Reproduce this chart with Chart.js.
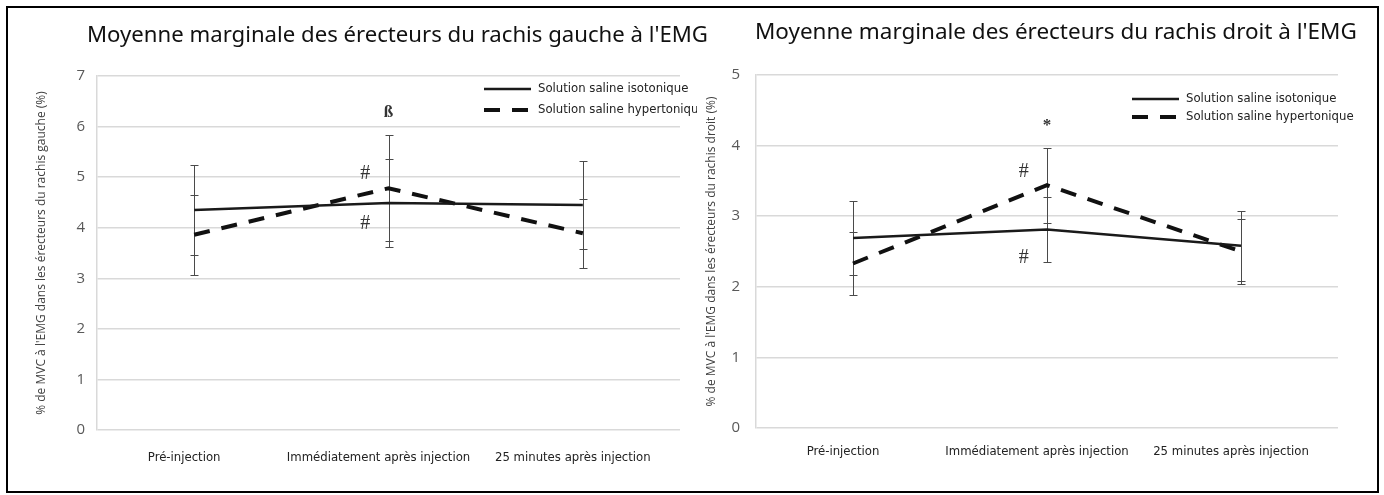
<!DOCTYPE html>
<html lang="fr">
<head>
<meta charset="utf-8">
<script src="https://cdn.jsdelivr.net/npm/chart.js@4.4.1/dist/chart.umd.min.js"></script>
<style>
    body { margin: 0; background: #fff; }
    #cadre { position: absolute; left: 6px; top: 6px; width: 1369px; height: 483px; border: 2px solid #000; }
    canvas { position: absolute; }
    #chartGauche { left: 10px; top: 10px; }
    #chartDroit { left: 700px; top: 10px; }
</style>
</head>
<body>
<div id="cadre"></div>
<canvas id="chartGauche" width="702" height="478"></canvas>
<canvas id="chartDroit" width="676" height="478"></canvas>
<script>
// =====================
// DONNÉES
// =====================
const categories = ['Pré-injection', 'Immédiatement après injection', '25 minutes après injection'];
const seriesNames = ['Solution saline isotonique', 'Solution saline hypertonique'];

// rachis gauche
const gaucheIso = [4.35, 4.49, 4.45];
const gaucheIsoErr = [0.89, 0.87, 0.87];
const gaucheHyper = [3.86, 4.78, 3.89];
const gaucheHyperErr = [0.79, 1.05, 0.68];
const gaucheTicksMax = 7;
const gaucheMarks = [['ß', 1, 6.28], ['#', 0.88, 5.06], ['#', 0.88, 4.07]];

// rachis droit
const droitIso = [2.69, 2.81, 2.58];
const droitIsoErr = [0.52, 0.46, 0.50];
const droitHyper = [2.33, 3.44, 2.50];
const droitHyperErr = [0.45, 0.53, 0.46];
const droitTicksMax = 5;
const droitMarks = [['*', 1, 4.29], ['#', 0.88, 3.63], ['#', 0.88, 2.41]];

const NARROW = "'Liberation Sans Narrow', 'DejaVu Sans Condensed', sans-serif";

// =====================
// PLUGIN : barres d'erreur, signes, légende, titre
// =====================
const extras = {
    id: 'extras',
    beforeDatasetsDraw(chart) {
        const ctx = chart.ctx;
        const x = chart.scales.x, y = chart.scales.y;
        ctx.save();
        ctx.strokeStyle = '#4a4a4a';
        ctx.lineWidth = 1;
        chart.data.datasets.forEach(ds => {
            ds.data.forEach((v, i) => {
                const px = Math.round(x.getPixelForValue(i)) + 0.5;
                const top = Math.round(y.getPixelForValue(v + ds.errors[i])) + 0.5;
                const bot = Math.round(y.getPixelForValue(v - ds.errors[i])) + 0.5;
                ctx.beginPath();
                ctx.moveTo(px, top); ctx.lineTo(px, bot);
                ctx.moveTo(px - 4, top); ctx.lineTo(px + 4, top);
                ctx.moveTo(px - 4, bot); ctx.lineTo(px + 4, bot);
                ctx.stroke();
            });
        });
        ctx.restore();
    },
    afterDraw(chart, args, opts) {
        const ctx = chart.ctx;
        const x = chart.scales.x, y = chart.scales.y;
        const area = chart.chartArea;

        // signes de significativité
        ctx.save();
        ctx.fillStyle = '#333';
        ctx.textAlign = 'center';
        ctx.textBaseline = 'middle';
        opts.marks.forEach(m => {
            ctx.font = (m[0] === '#' ? '20px' : 'bold 17px') + " 'Liberation Serif', serif";
            ctx.fillText(m[0], x.getPixelForValue(m[1]), y.getPixelForValue(m[2]));
        });
        ctx.restore();

        // légende
        ctx.save();
        ctx.beginPath();
        ctx.rect(0, 0, opts.legend.clip, chart.height);
        ctx.clip();
        chart.data.datasets.forEach((ds, i) => {
            const lx = area.left + opts.legend.dx;
            const ly = area.top + opts.legend.dy + i * opts.legend.gap;
            ctx.strokeStyle = ds.borderColor;
            ctx.lineWidth = ds.borderWidth;
            ctx.setLineDash(ds.borderDash || []);
            ctx.beginPath();
            ctx.moveTo(lx, ly);
            ctx.lineTo(lx + 47, ly);
            ctx.stroke();
            ctx.setLineDash([]);
            ctx.fillStyle = '#222';
            ctx.font = '13px ' + NARROW;
            ctx.textAlign = 'left';
            ctx.textBaseline = 'middle';
            ctx.fillText(ds.label, lx + 54, ly);
        });
        ctx.restore();

        // titre
        ctx.save();
        ctx.fillStyle = '#111';
        ctx.font = "22px 'Noto Sans', sans-serif";
        const w = ctx.measureText(opts.title.text).width;
        const size = 22 * opts.title.width / w;
        ctx.font = size.toFixed(2) + "px 'Noto Sans', sans-serif";
        ctx.textAlign = 'left';
        ctx.textBaseline = 'middle';
        ctx.fillText(opts.title.text, opts.title.x, opts.title.y);
        ctx.restore();
    }
};

// =====================
// GRAPHIQUE
// =====================
function makeChart(id, iso, isoErr, hyper, hyperErr, yMax, yTitle, marks, L) {
    const ctx = document.getElementById(id).getContext('2d');
    return new Chart(ctx, {
        type: 'line',
        data: {
            labels: categories,
            datasets: [
                { label: seriesNames[0], data: iso, errors: isoErr, borderColor: '#1a1a1a', borderWidth: 2.5, pointRadius: 0, tension: 0, fill: false },
                { label: seriesNames[1], data: hyper, errors: hyperErr, borderColor: '#111', borderWidth: 4, borderDash: [16, 12], pointRadius: 0, tension: 0, fill: false }
            ]
        },
        options: {
            responsive: false,
            animation: false,
            devicePixelRatio: 1,
            layout: { padding: { top: L.top, right: L.right, left: 0, bottom: 0 } },
            plugins: {
                legend: { display: false },
                tooltip: { enabled: false },
                extras: { marks, legend: L.legend, title: L.title }
            },
            scales: {
                x: {
                    offset: true,
                    grid: { display: false, drawTicks: false },
                    border: { display: false },
                    ticks: { padding: L.xPad, color: '#222', labelOffset: -10, maxRotation: 0, autoSkip: false, font: { family: NARROW, size: 13 } },
                    afterFit(s) { s.height = L.xHeight; }
                },
                y: {
                    min: 0,
                    max: yMax,
                    ticks: { stepSize: 1, padding: L.tickPad, color: '#595959', font: { family: "'Open Sans', sans-serif", size: 15 } },
                    grid: { color: '#d9d9d9', lineWidth: 1.5, drawTicks: false },
                    border: { color: '#d9d9d9', width: 1.5 },
                    title: { display: true, text: yTitle, color: '#404040', font: { family: "'Open Sans', sans-serif", size: 12 }, padding: { top: L.titlePad, bottom: 0 } },
                    afterFit(s) { s.width = L.axisWidth; }
                }
            }
        },
        plugins: [extras]
    });
}

makeChart('chartGauche', gaucheIso, gaucheIsoErr, gaucheHyper, gaucheHyperErr, gaucheTicksMax,
    "% de MVC à l'EMG dans les érecteurs du rachis gauche (%)", gaucheMarks,
    {
        top: 66, right: 32, xHeight: 58, xPad: 20, axisWidth: 87, tickPad: 12, titlePad: 24,
        legend: { dx: 387, dy: 13, gap: 21, clip: 687 },
        title: { text: "Moyenne marginale des érecteurs du rachis gauche à l'EMG", x: 77, y: 26, width: 621 }
    });

makeChart('chartDroit', droitIso, droitIsoErr, droitHyper, droitHyperErr, droitTicksMax,
    "% de MVC à l'EMG dans les érecteurs du rachis droit (%)", droitMarks,
    {
        top: 65, right: 38, xHeight: 60, xPad: 16, axisWidth: 56, tickPad: 16, titlePad: 4,
        legend: { dx: 376, dy: 24, gap: 18, clip: 676 },
        title: { text: "Moyenne marginale des érecteurs du rachis droit à l'EMG", x: 55, y: 23, width: 602 }
    });
</script>
</body>
</html>
